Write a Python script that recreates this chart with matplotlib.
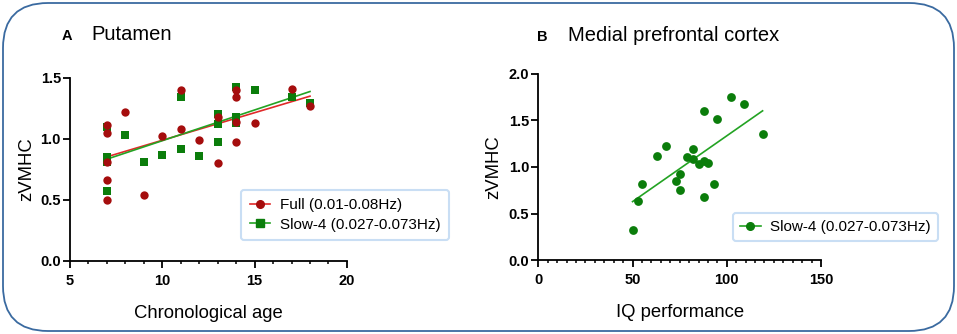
import matplotlib
matplotlib.use("Agg")
import matplotlib.pyplot as plt
import numpy as np
from matplotlib.patches import FancyBboxPatch
from matplotlib.lines import Line2D
from matplotlib.ticker import MultipleLocator

plt.rcParams['font.family'] = ['Liberation Sans', 'DejaVu Sans']

# Panel A: putamen, zVMHC vs chronological age
age_full = [7, 7, 7, 7, 7, 8, 9, 10, 11, 11, 12, 13, 13, 14, 14, 14, 14, 15, 17, 18]
zvmhc_full = [1.11, 1.05, 0.81, 0.66, 0.50, 1.22, 0.54, 1.02, 1.40, 1.08,
              0.99, 1.18, 0.80, 1.40, 1.34, 1.14, 0.97, 1.13, 1.41, 1.27]
age_slow4 = [7, 7, 7, 7, 8, 9, 10, 11, 11, 12, 13, 13, 13, 14, 14, 14, 15, 17, 18]
zvmhc_slow4 = [1.10, 0.85, 0.81, 0.57, 1.03, 0.81, 0.87, 1.34, 0.92,
               0.86, 1.20, 1.12, 0.97, 1.42, 1.18, 1.13, 1.40, 1.34, 1.29]

# Panel B: medial prefrontal cortex, zVMHC vs IQ performance
iq = [50, 53, 55, 63, 68, 73, 75, 75, 79, 82, 82, 85, 88, 90, 88, 88, 93, 95, 102, 109, 119]
zvmhc_iq = [0.32, 0.64, 0.82, 1.12, 1.22, 0.85, 0.92, 0.75, 1.11, 1.19, 1.09,
            1.03, 1.06, 1.04, 0.68, 1.60, 0.82, 1.51, 1.75, 1.67, 1.35]

RED = '#a50d0d'
RED_LINE = '#e02a2a'
GREEN = '#0b7d0b'
GREEN_LINE = '#23a323'

fig = plt.figure(figsize=(9.57, 3.34), dpi=100)

# rounded frame around the whole figure
frame = FancyBboxPatch((0.03, 0.03), 9.51, 3.28,
                       boxstyle="round,pad=0,rounding_size=0.45",
                       transform=fig.dpi_scale_trans, fill=False,
                       edgecolor='#3a6aa0', linewidth=1.3)
fig.patches.append(frame)


def style_axes(ax):
    for side in ['top', 'right']:
        ax.spines[side].set_visible(False)
    for side in ['left', 'bottom']:
        ax.spines[side].set_linewidth(1.3)
    ax.tick_params(which='major', length=5, width=1.3, labelsize=10.5)
    ax.tick_params(which='minor', length=2.5, width=1.1)
    ax.tick_params(axis='y', which='minor', left=False)
    ax.tick_params(axis='y', pad=1.5)
    ax.tick_params(axis='x', pad=4.5)
    for lab in ax.get_xticklabels() + ax.get_yticklabels():
        lab.set_fontweight('bold')


def fit_line(ax, x, y, color):
    x = np.asarray(x, float)
    k, b = np.polyfit(x, y, 1)
    xs = np.array([x.min(), x.max()])
    ax.plot(xs, k * xs + b, color=color, linewidth=1.2, zorder=2)


def legend_style(leg):
    leg.get_frame().set_edgecolor('#bcd6f2')
    leg.get_frame().set_linewidth(1.5)


# ---- panel A
ax1 = fig.add_axes([0.0731, 0.2186, 0.2894, 0.5488])
fit_line(ax1, age_full, zvmhc_full, RED_LINE)
fit_line(ax1, age_slow4, zvmhc_slow4, GREEN_LINE)
ax1.scatter(age_slow4, zvmhc_slow4, marker='s', s=34, color=GREEN, linewidths=0, zorder=3)
ax1.scatter(age_full, zvmhc_full, marker='o', s=36, color=RED, linewidths=0, zorder=4)
ax1.set_xlim(5, 20)
ax1.set_ylim(0, 1.5)
ax1.xaxis.set_minor_locator(MultipleLocator(1))
ax1.set_xticks([5, 10, 15, 20])
ax1.set_xticklabels(['5', '10', '15', '20'])
ax1.set_yticks([0, 0.5, 1.0, 1.5])
ax1.set_yticklabels(['0.0', '0.5', '1.0', '1.5'])
style_axes(ax1)
ax1.set_xlabel('Chronological age', fontsize=13.3, labelpad=12)
ax1.set_ylabel('zVMHC', fontsize=13.3)
ax1.yaxis.set_label_coords(-0.125, 0.5)

handles1 = [Line2D([], [], color=RED_LINE, marker='o', markerfacecolor=RED,
                   markeredgecolor=RED, markersize=5.5, linewidth=1.2),
            Line2D([], [], color=GREEN_LINE, marker='s', markerfacecolor=GREEN,
                   markeredgecolor=GREEN, markersize=5.5, linewidth=1.2)]
leg1 = fig.legend(handles1, ['Full (0.01-0.08Hz)', 'Slow-4 (0.027-0.073Hz)'],
                  loc='upper left', bbox_to_anchor=(0.252, 0.431), fontsize=11,
                  handlelength=1.35, handletextpad=0.65, borderaxespad=0,
                  frameon=True, fancybox=True, labelspacing=0.35,
                  borderpad=0.55)
legend_style(leg1)

# ---- panel B
ax2 = fig.add_axes([0.5625, 0.2207, 0.2954, 0.5587])
fit_line(ax2, iq, zvmhc_iq, GREEN_LINE)
ax2.scatter(iq, zvmhc_iq, marker='o', s=40, color=GREEN, linewidths=0, zorder=3)
ax2.set_xlim(0, 150)
ax2.set_ylim(0, 2.0)
ax2.xaxis.set_minor_locator(MultipleLocator(5))
ax2.set_xticks([0, 50, 100, 150])
ax2.set_xticklabels(['0', '50', '100', '150'])
ax2.set_yticks([0, 0.5, 1.0, 1.5, 2.0])
ax2.set_yticklabels(['0.0', '0.5', '1.0', '1.5', '2.0'])
style_axes(ax2)
ax2.set_xlabel('IQ performance', fontsize=13.3, labelpad=12)
ax2.set_ylabel('zVMHC', fontsize=13.3)
ax2.yaxis.set_label_coords(-0.128, 0.5)

handles2 = [Line2D([], [], color=GREEN_LINE, marker='o', markerfacecolor=GREEN,
                   markeredgecolor=GREEN, markersize=5.5, linewidth=1.2)]
leg2 = fig.legend(handles2, ['Slow-4 (0.027-0.073Hz)'],
                  loc='upper left', bbox_to_anchor=(0.766, 0.362), fontsize=11,
                  handlelength=1.35, handletextpad=0.65, borderaxespad=0,
                  frameon=True, fancybox=True, borderpad=0.45)
legend_style(leg2)

# panel titles
fig.text(0.064, 0.88, 'A', fontsize=10.5, fontweight='bold', va='baseline')
fig.text(0.096, 0.88, 'Putamen', fontsize=14.5, va='baseline')
fig.text(0.561, 0.877, 'B', fontsize=10.5, fontweight='bold', va='baseline')
fig.text(0.593, 0.877, 'Medial prefrontal cortex', fontsize=14.5, va='baseline')

fig.savefig('out.png', dpi=100)
